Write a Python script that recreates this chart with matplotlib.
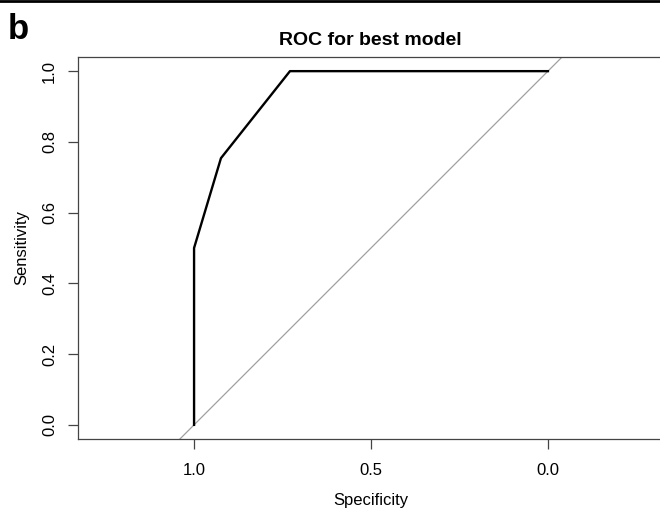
import numpy as np
import matplotlib
matplotlib.use('Agg')
import matplotlib.pyplot as plt
from matplotlib.lines import Line2D

plt.rcParams['font.family'] = ['Liberation Sans', 'DejaVu Sans']

# ROC points
specificity = [1.0, 1.0, 0.924, 0.729, 0.0]
sensitivity = [0.0, 0.5, 0.754, 1.0, 1.0]
x_ticks = [1.0, 0.5, 0.0]
y_ticks = [0.0, 0.2, 0.4, 0.6, 0.8, 1.0]

W, H = 660, 514
fig = plt.figure(figsize=(W / 100, H / 100), dpi=100)
# axes box in pixels: left 78, right 664 (off the image), top 57, bottom 439
ax = fig.add_axes([78 / W, 1 - 439 / H, (664 - 78) / W, (439 - 57) / H])

ax.axline((1, 0), (0, 1), color='#a0a0a0', lw=0.9, zorder=1)
ax.plot(specificity, sensitivity, color='black', lw=1.7, zorder=2)

ax.set_xlim(1.328, -0.328)
ax.set_ylim(-0.04, 1.04)
ax.set_xticks(x_ticks)
ax.set_xticklabels(['%.1f' % v for v in x_ticks])
ax.set_yticks(y_ticks)
ax.set_yticklabels(['%.1f' % v for v in y_ticks], rotation=90, va='center')

for s in ax.spines.values():
    s.set_color('#444444')
    s.set_linewidth(0.9)
ax.tick_params(axis='both', direction='out', length=7, width=0.9, color='#444444',
               labelsize=12, pad=10)
ax.tick_params(axis='y', pad=8)

ax.set_xlabel('Specificity', fontsize=12, labelpad=11)
ax.set_ylabel('Sensitivity', fontsize=12, labelpad=9)

fig.text(370.5 / W, 1 - 45 / H, 'ROC for best model', ha='center', va='baseline',
         fontsize=14, fontweight='bold')
fig.text(8 / W, 1 - 39 / H, 'b', ha='left', va='baseline', fontsize=25, fontweight='bold')

# black rule along the top of the image
fig.add_artist(Line2D([0, 1], [1 - 1 / H, 1 - 1 / H], color='black', lw=2,
                      transform=fig.transFigure))

fig.savefig('out.png', dpi=100)
